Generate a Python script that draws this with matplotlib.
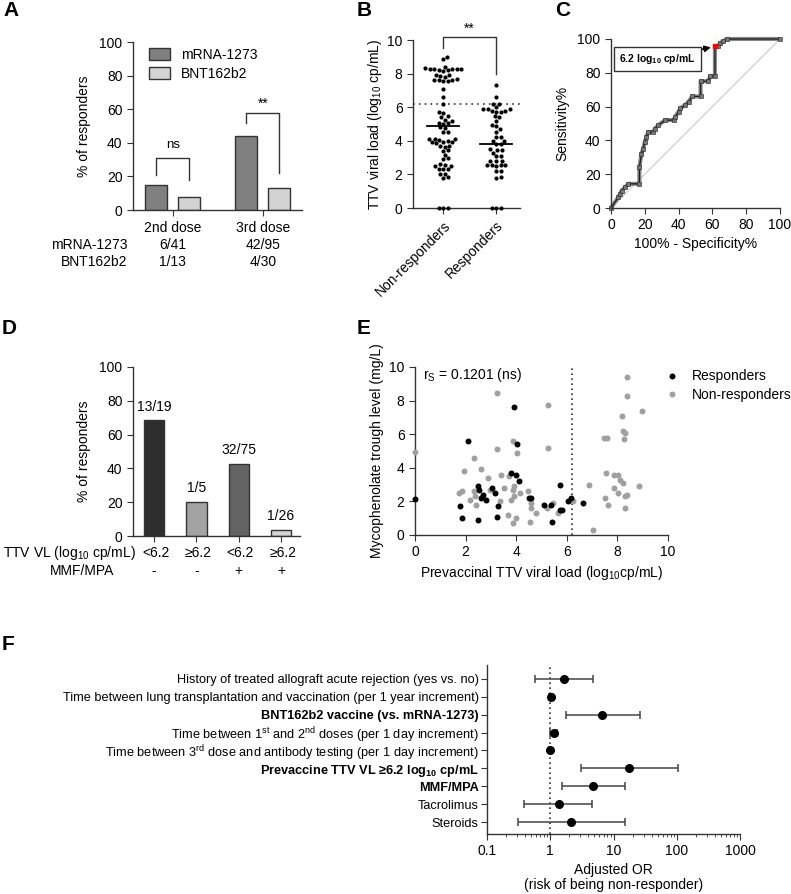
import numpy as np
import matplotlib
matplotlib.use('Agg')
import matplotlib.pyplot as plt
from matplotlib import font_manager
from matplotlib.lines import Line2D
from matplotlib.transforms import blended_transform_factory as blend

# ---------------- data ----------------
# A: % responders by vaccine and dose
doses = ['2nd dose', '3rd dose']
mrna_resp = [6, 42]
mrna_tot = [41, 95]
bnt_resp = [1, 4]
bnt_tot = [13, 30]

# B: TTV viral load (log10 cp/mL)
nonresp_vl = [9.0, 8.85, 8.4, 8.35, 8.3, 8.3, 8.25, 8.25, 8.2, 8.2, 8.3, 8.15,
              7.9, 7.85, 7.9, 7.8, 7.6, 7.6, 7.55, 7.6, 7.65, 7.55,
              7.1, 6.6, 6.2, 5.7, 5.65, 5.45, 5.4, 5.25, 5.2, 5.05, 5.0, 5.05,
              4.75, 4.8, 4.55, 4.5, 4.1, 4.05, 4.1, 4.0, 4.1, 3.9, 3.9, 3.85, 3.9,
              3.7, 3.7, 3.65, 3.45, 3.4, 3.15, 2.9, 2.95, 2.6, 2.55, 2.5, 2.5,
              2.35, 2.3, 2.3, 2.05, 2.0, 1.85, 1.8, 0, 0, 0]
resp_vl = [7.35, 6.6, 6.2, 6.2, 6.0, 5.9, 5.9, 5.9, 5.8, 5.7, 5.7, 5.75, 5.4, 5.45,
           5.2, 4.9, 4.95, 4.7, 4.55, 4.25, 4.25, 4.0, 4.0, 3.8, 3.8, 3.45, 3.45,
           3.5, 3.3, 3.1, 3.1, 2.8, 2.8, 2.8, 2.55, 2.55, 2.5, 2.55, 2.55, 2.2, 2.2,
           1.85, 1.8, 0, 0, 0]
vl_medians = [4.9, 3.8]
vl_cutoff = 6.2
b_groups = ['Non-responders', 'Responders']

# C: ROC curve (100% - specificity, sensitivity)
roc_fpr = [0, 4.3, 5.3, 6.3, 8.3, 10.3, 16.8, 16.8, 18, 19, 20, 21, 22, 25, 26, 28,
           32, 37, 38, 40, 41, 44, 46, 48, 53, 53, 57.6, 58.6, 61.5, 61.5, 63.5,
           64.5, 66.5, 68.4, 100]
roc_tpr = [0, 6.3, 8.3, 10.3, 12.3, 14.3, 14.3, 24, 32, 35, 39, 42, 45, 45, 47, 49,
           52, 52, 54, 57, 59, 61, 63, 66, 66, 75, 75, 78, 78, 95.6, 95.6, 97.6,
           98.6, 100, 100]
roc_cut = (61.5, 95.6)

# D: responders by TTV VL and MMF/MPA
d_resp = [13, 1, 32, 1]
d_tot = [19, 5, 75, 26]
d_ttv = ['<6.2', '≥6.2', '<6.2', '≥6.2']
d_mmf = ['-', '-', '+', '+']

# E: mycophenolate trough level vs prevaccinal TTV VL
resp_x = [0, 2.1, 1.78, 1.84, 2.5, 2.53, 2.6, 2.7, 2.8, 2.5, 3.03, 3.16, 3.3, 3.26,
          3.92, 3.8, 4.04, 4.0, 4.1, 4.5, 4.6, 5.09, 5.36, 5.42, 5.72, 5.72, 5.82,
          6.05, 6.16, 6.64]
resp_y = [2.13, 5.6, 1.7, 1.0, 2.9, 2.7, 2.2, 2.4, 2.1, 0.9, 2.8, 2.5, 1.7, 1.1,
          7.6, 3.7, 5.4, 3.6, 3.2, 2.2, 2.2, 1.8, 1.8, 0.8, 3.0, 1.5, 1.5,
          2.0, 2.2, 1.9]
non_x = [0, 3.25, 5.26, 3.86, 4.05, 3.26, 5.26, 2.34, 1.95, 2.6, 2.9, 3.38, 3.72,
         3.51, 2.96, 1.75, 1.84, 2.34, 2.17, 2.38, 2.41, 3.36, 3.8, 3.86, 3.92, 3.92,
         4.14, 4.45, 4.57, 4.58, 4.8, 3.68, 3.88, 4.01, 4.54, 5.22, 5.46, 5.66, 6.25,
         6.88, 7.04, 8.39, 8.36, 8.97, 8.18, 8.24, 8.3, 8.26, 7.46, 7.57, 7.55, 7.86,
         8.04, 8.12, 8.22, 7.5, 7.63, 7.87, 8.03, 8.3, 8.38, 8.32, 8.84]
non_y = [4.93, 8.43, 7.73, 5.6, 4.9, 5.1, 5.2, 4.6, 3.8, 3.9, 3.4, 3.6, 3.5,
         2.8, 2.7, 2.5, 2.6, 2.6, 2.1, 2.3, 1.8, 2.0, 2.1, 2.7, 2.9, 2.3,
         2.5, 2.6, 1.9, 1.6, 1.3, 1.2, 0.7, 1.0, 0.8, 1.6, 1.9, 1.3, 2.0,
         3.0, 0.3, 9.4, 8.3, 7.4, 7.1, 6.2, 6.1, 5.7, 5.8, 5.8, 3.7, 3.6,
         3.6, 3.3, 3.1, 2.2, 1.8, 2.8, 2.5, 2.3, 2.4, 1.6, 2.9]
rs_text = 'r$_S$ = 0.1201 (ns)'

# F: multivariable model, adjusted OR
f_labels = ['History of treated allograft acute rejection (yes vs. no)',
            'Time between lung transplantation and vaccination (per 1 year increment)',
            'BNT162b2 vaccine (vs. mRNA-1273)',
            'Time between 1$^{st}$ and 2$^{nd}$ doses (per 1 day increment)',
            'Time between 3$^{rd}$ dose and antibody testing (per 1 day increment)',
            'Prevaccine TTV VL ≥6.2 log$_{10}$ cp/mL',
            'MMF/MPA',
            'Tacrolimus',
            'Steroids']
f_bold = [False, False, True, False, False, True, True, False, False]
f_or = [1.64, 1.03, 6.7, 1.13, 0.98, 17.9, 4.7, 1.36, 2.15]
f_lo = [0.57, 0.95, 1.76, 0.98, 0.95, 3.05, 1.52, 0.39, 0.31]
f_hi = [4.8, 1.1, 26.5, 1.3, 1.02, 104, 15.2, 4.6, 15.2]

# ---------------- style ----------------
plt.rcParams['font.family'] = ['Liberation Sans', 'DejaVu Sans']
plt.rcParams['mathtext.default'] = 'regular'
plt.rcParams['font.size'] = 10
plt.rcParams['axes.linewidth'] = 1.0
plt.rcParams['axes.edgecolor'] = '#333333'
plt.rcParams['xtick.major.size'] = 4
plt.rcParams['ytick.major.size'] = 4
plt.rcParams['xtick.color'] = '#333333'
plt.rcParams['ytick.color'] = '#333333'
plt.rcParams['xtick.labelcolor'] = 'black'
plt.rcParams['ytick.labelcolor'] = 'black'

names = {f.name for f in font_manager.fontManager.ttflist}
narrow = 'Liberation Sans Narrow' if 'Liberation Sans Narrow' in names else None

W, H = 791, 894
fig = plt.figure(figsize=(W / 100, H / 100), dpi=100)


def axes_px(x0, y0, x1, y1):
    return fig.add_axes([x0 / W, 1 - y1 / H, (x1 - x0) / W, (y1 - y0) / H])


def clean(ax):
    ax.spines['top'].set_visible(False)
    ax.spines['right'].set_visible(False)


def letter(x, y, s):
    fig.text(x / W, 1 - y / H, s, fontsize=15, fontweight='bold', ha='left', va='center')


def swarm(vals, px_y, px_x, diam):
    # simple beeswarm: place each point at the nearest free horizontal slot
    order = np.argsort(vals)
    placed = []
    offs = np.zeros(len(vals))
    cands = [0.0]
    for k in range(1, 120):
        cands += [k * 0.5, -k * 0.5]
    for i in order:
        y = vals[i] * px_y
        for c in cands:
            if all((c - px) ** 2 + (y - py) ** 2 >= diam ** 2 for px, py in placed):
                break
        placed.append((c, y))
        offs[i] = c / px_x
    return offs


# ---------------- A ----------------
ax = axes_px(133, 42, 302, 210)
clean(ax)
mrna_pct = [100 * a / b for a, b in zip(mrna_resp, mrna_tot)]
bnt_pct = [100 * a / b for a, b in zip(bnt_resp, bnt_tot)]
xg = np.arange(len(doses))
ax.bar(xg - 0.19, mrna_pct, 0.245, color='#808080', edgecolor='#333333', lw=1,
       label='mRNA-1273')
ax.bar(xg + 0.18, bnt_pct, 0.245, color='#d3d3d3', edgecolor='#333333', lw=1,
       label='BNT162b2')
ax.set_xlim(-0.44, 1.43)
ax.set_ylim(0, 100)
ax.set_yticks(range(0, 101, 20))
ax.set_xticks(xg)
ax.set_xticklabels(doses)
ax.tick_params(axis='x', pad=4)
ax.set_ylabel('% of responders', labelpad=6)
ax.legend(loc='upper left', bbox_to_anchor=(0.02, 1.04), frameon=False,
          handlelength=1.5, handleheight=0.9, handletextpad=0.8, labelspacing=0.35)
# brackets
ax.plot([-0.19, -0.19, 0.18, 0.18], [21, 31, 31, 18], color='#333333', lw=1)
ax.text(0, 35, 'ns', ha='center', va='bottom', fontsize=9.5)
ax.plot([0.81, 0.81, 1.18, 1.18], [52, 58, 58, 22], color='#333333', lw=1)
ax.text(1.0, 59, '**', ha='center', va='bottom', fontsize=10)
# counts table
tr = blend(ax.transData, ax.transAxes)
ax.text(-0.035, -0.21, 'mRNA-1273', transform=ax.transAxes, ha='right', va='center')
ax.text(-0.035, -0.31, 'BNT162b2', transform=ax.transAxes, ha='right', va='center')
for i in range(len(doses)):
    ax.text(xg[i], -0.21, f'{mrna_resp[i]}/{mrna_tot[i]}', transform=tr,
            ha='center', va='center')
    ax.text(xg[i], -0.31, f'{bnt_resp[i]}/{bnt_tot[i]}', transform=tr,
            ha='center', va='center')
letter(3, 11, 'A')

# ---------------- B ----------------
ax = axes_px(413, 40, 520, 208)
clean(ax)
px_x = 107 / 2.02
px_y = 16.8
for gi, vals in enumerate([nonresp_vl, resp_vl]):
    vals = np.array(vals)
    off = swarm(vals, px_y, px_x, 4.4)
    ax.plot(gi + off, vals, 'o', color='black', ms=3.0, mew=0, clip_on=False, zorder=3)
    ax.plot([gi - 0.3, gi + 0.3], [vl_medians[gi]] * 2, color='black', lw=1.3, zorder=4)
ax.axhline(vl_cutoff, color='#333333', ls=(0, (1, 2.5)), lw=1.2, clip_on=False)
ax.plot([0, 0, 1, 1], [9.5, 10.2, 10.2, 8.0], color='#333333', lw=1, clip_on=False)
ax.text(0.5, 10.25, '**', ha='center', va='bottom', fontsize=10)
ax.set_xlim(-0.57, 1.45)
ax.set_ylim(0, 10)
ax.set_yticks(range(0, 11, 2))
ax.set_xticks([0, 1])
ax.set_xticklabels(b_groups, rotation=45, ha='right', rotation_mode='anchor')
ax.set_ylabel('TTV viral load (log$_{10}$ cp/mL)', labelpad=2)
letter(357, 10, 'B')

# ---------------- C ----------------
ax = axes_px(611, 39, 780, 208)
clean(ax)
ax.plot([0, 100], [0, 100], color='#c8c8c8', lw=0.8)
ax.plot(roc_fpr, roc_tpr, color='#8a8a8a', lw=3.0, solid_capstyle='butt', clip_on=False)
ax.plot(roc_fpr, roc_tpr, color='#222222', lw=1.0, marker='s', ms=2.2,
        mfc='#777777', mec='#222222', mew=0.4, clip_on=False)
ax.plot(*roc_cut, 's', color='red', ms=3, zorder=5)
ax.annotate('6.2 log$_{10}$ cp/mL', xy=roc_cut, xytext=(27.5, 88),
            ha='center', va='center', fontsize=7.5, fontweight='bold',
            bbox=dict(boxstyle='square,pad=0.5', fc='white', ec='#333333', lw=1),
            arrowprops=dict(arrowstyle='-|>', color='black', lw=1.2,
                            shrinkA=0, shrinkB=3, mutation_scale=9))
ax.set_xlim(0, 100)
ax.set_ylim(0, 100)
ax.set_xticks(range(0, 101, 20))
ax.set_yticks(range(0, 101, 20))
ax.set_xlabel('100% - Specificity%', labelpad=3)
ax.set_ylabel('Sensitivity%', labelpad=6)
letter(555, 10, 'C')

# ---------------- D ----------------
ax = axes_px(133, 367, 300, 536)
clean(ax)
d_pct = [100 * a / b for a, b in zip(d_resp, d_tot)]
xd = np.arange(len(d_pct))
ax.bar(xd, d_pct, 0.48, color=['#2e2e2e', '#a3a3a3', '#636363', '#d5d5d5'],
       edgecolor='#333333', lw=1)
for i in xd:
    ax.text(xd[i], d_pct[i] + 4, f'{d_resp[i]}/{d_tot[i]}', ha='center', va='bottom')
ax.set_xlim(-0.5, 3.45)
ax.set_ylim(0, 100)
ax.set_yticks(range(0, 101, 20))
ax.set_xticks(xd)
ax.set_xticklabels([''] * len(xd))
ax.set_ylabel('% of responders', labelpad=6)
tr = blend(ax.transData, ax.transAxes)
ax.text(0.015, -0.10, 'TTV VL (log$_{10}$ cp/mL)', transform=ax.transAxes,
        ha='right', va='center')
ax.text(-0.11, -0.21, 'MMF/MPA', transform=ax.transAxes, ha='right', va='center')
for i in xd:
    ax.text(xd[i] + 0.04, -0.10, d_ttv[i], transform=tr, ha='center', va='center')
    ax.text(xd[i], -0.21, d_mmf[i], transform=tr, ha='center', va='center')
letter(2, 328, 'D')

# ---------------- E ----------------
ax = axes_px(415, 367, 668, 535)
clean(ax)
ax.plot(non_x, non_y, 'o', color='#a0a0a0', ms=4.3, mew=0, clip_on=False,
        label='Non-responders', zorder=3)
ax.plot(resp_x, resp_y, 'o', color='black', ms=4.3, mew=0, clip_on=False,
        label='Responders', zorder=4)
ax.axvline(vl_cutoff, color='#333333', ls=(0, (1, 2)), lw=1.2)
ax.text(0.3, 9.5, rs_text, ha='left', va='center')
ax.set_xlim(0, 10)
ax.set_ylim(0, 10)
ax.set_xticks(range(0, 11, 2))
ax.set_yticks(range(0, 11, 2))
ax.set_xlabel('Prevaccinal TTV viral load (log$_{10}$cp/mL)', labelpad=3)
ax.set_ylabel('Mycophenolate trough level (mg/L)', labelpad=4)
handles = [Line2D([], [], marker='o', ls='', color='black', ms=4.3, mew=0),
           Line2D([], [], marker='o', ls='', color='#a0a0a0', ms=4.3, mew=0)]
ax.legend(handles, ['Responders', 'Non-responders'], loc='upper left',
          bbox_to_anchor=(0.94, 1.06), frameon=False, handlelength=1.0,
          handletextpad=0.9, labelspacing=0.35)
letter(357, 328, 'E')

# ---------------- F ----------------
ax = axes_px(487, 665, 740, 834)
clean(ax)
rows = np.arange(len(f_labels))
f_or_a = np.array(f_or)
xerr = [f_or_a - np.array(f_lo), np.array(f_hi) - f_or_a]
ax.errorbar(f_or, rows, xerr=xerr, fmt='o', color='black', ms=5.5,
            ecolor='#444444', elinewidth=1.1, capsize=3, capthick=1.1, zorder=3)
ax.axvline(1, color='#333333', ls=(0, (1, 2)), lw=1.2, zorder=1)
ax.set_xscale('log')
ax.set_xlim(0.1, 1000)
ax.set_ylim(8.65, -0.76)
ax.set_xticks([0.1, 1, 10, 100, 1000])
ax.set_xticklabels(['0.1', '1', '10', '100', '1000'])
ax.tick_params(axis='x', which='minor', length=2.5)
ax.set_yticks(rows)
if narrow:
    ax.set_yticklabels(f_labels, family=[narrow, 'DejaVu Sans'], fontsize=10)
else:
    ax.set_yticklabels(f_labels, fontsize=9.2)
for lab, b in zip(ax.get_yticklabels(), f_bold):
    if b:
        lab.set_fontweight('bold')
ax.tick_params(axis='y', pad=2)
ax.set_xlabel('Adjusted OR\n(risk of being non-responder)', labelpad=3, linespacing=1.1)
letter(2, 645, 'F')

fig.savefig('out.png', dpi=100)
